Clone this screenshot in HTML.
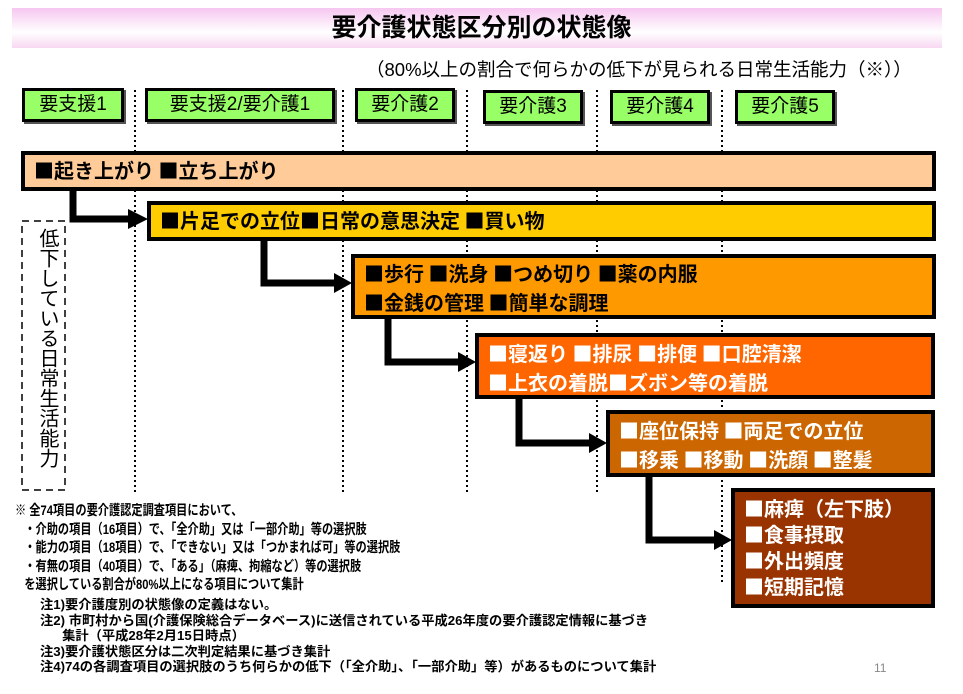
<!DOCTYPE html>
<html><head><meta charset="utf-8"><style>
body{margin:0;width:963px;height:694px;background:#fff;position:relative;overflow:hidden;font-family:"Liberation Sans","Noto Sans CJK JP",sans-serif;}
.a{position:absolute;white-space:nowrap;}
.g{position:absolute;background:#99FF66;border:3px solid #000;box-shadow:2px 2px 0 #555;font-size:19px;text-align:center;line-height:28px;height:28px;box-sizing:content-box}
.bar{position:absolute;border:4px solid #000;box-sizing:border-box;font-family:"Noto Sans CJK JP",sans-serif;font-size:20px;font-weight:bold;line-height:29px;padding-left:9px;white-space:nowrap}
.n{position:absolute;white-space:nowrap;font-weight:bold;transform-origin:0 0;}
</style></head><body>
<div class="a" style="left:12px;top:8px;width:930px;height:40px;background:linear-gradient(#f6c6f0,#fff 60%,#f8d8f2);"></div>
<div class="a" style="left:0;width:963px;top:12px;text-align:center;font-size:25px;font-weight:bold;line-height:32px;">要介護状態区分別の状態像</div>
<div class="a" style="left:366px;top:57px;font-size:18.5px;line-height:26px;">（80%以上の割合で何らかの低下が見られる日常生活能力（※））</div>
<svg class="a" style="left:0;top:0" width="963" height="694">
<g stroke="#000" stroke-width="2" stroke-dasharray="2,3">
<line x1="135" y1="90" x2="135" y2="495"/><line x1="343" y1="90" x2="343" y2="495"/>
<line x1="467" y1="90" x2="467" y2="495"/><line x1="597" y1="90" x2="597" y2="495"/>
<line x1="722" y1="90" x2="722" y2="585"/>
</g>
<rect x="22" y="221" width="43" height="269" fill="none" stroke="#000" stroke-width="1.5" stroke-dasharray="7,5"/>
<g stroke="#000" stroke-width="7" fill="none">
<polyline points="73,190 73,219 133,219"/>
<polyline points="264,240 264,283 337,283"/>
<polyline points="388,318 388,362 461,362"/>
<polyline points="519,398 519,443 592,443"/>
<polyline points="649,476 649,540 717,540"/>
</g>
<g fill="#000">
<polygon points="128,209 148,219 128,229"/>
<polygon points="334,273 352,283 334,293"/>
<polygon points="458,352 476,362 458,372"/>
<polygon points="589,433 607,443 589,453"/>
<polygon points="714,530 732,540 714,550"/>
</g>
</svg>
<div class="g" style="left:22px;top:88px;width:96px;">要支援1</div>
<div class="g" style="left:145px;top:88px;width:184px;">要支援2/要介護1</div>
<div class="g" style="left:355px;top:88px;width:94px;">要介護2</div>
<div class="g" style="left:483px;top:90px;width:94px;">要介護3</div>
<div class="g" style="left:610px;top:90px;width:94px;">要介護4</div>
<div class="g" style="left:735px;top:90px;width:94px;">要介護5</div>

<div class="bar" style="left:21px;top:151px;width:915px;height:40px;background:#FFCC99;">■起き上がり ■立ち上がり</div>
<div class="bar" style="left:147px;top:201px;width:789px;height:40px;background:#FFCC00;">■片足での立位■日常の意思決定 ■買い物</div>
<div class="bar" style="left:351px;top:254px;width:585px;height:65px;background:#FF9900;">■歩行 ■洗身 ■つめ切り ■薬の内服<br>■金銭の管理 ■簡単な調理</div>
<div class="bar" style="left:475px;top:333px;width:460px;height:66px;background:#FF6600;color:#fff;padding-top:1px">■寝返り ■排尿 ■排便 ■口腔清潔<br>■上衣の着脱■ズボン等の着脱</div>
<div class="bar" style="left:606px;top:410px;width:329px;height:67px;background:#CC6600;color:#fff;padding-top:1px">■座位保持 ■両足での立位<br>■移乗 ■移動 ■洗顔 ■整髪</div>
<div class="bar" style="left:731px;top:488px;width:204px;height:120px;background:#993300;color:#fff;line-height:26px;padding-top:3px">■麻痺（左下肢）<br>■食事摂取<br>■外出頻度<br>■短期記憶</div>

<div class="a" style="left:31px;top:228px;width:26px;font-size:20px;line-height:21.5px;writing-mode:vertical-rl;">低下している日常生活能力</div>

<div class="n" style="left:15px;top:501px;font-size:14px;line-height:18.5px;transform:scaleX(0.8)">※ 全74項目の要介護認定調査項目において、<br>&nbsp;&nbsp;&nbsp;・介助の項目（16項目）で、「全介助」又は「一部介助」等の選択肢<br>&nbsp;&nbsp;&nbsp;・能力の項目（18項目）で、「できない」又は「つかまれば可」等の選択肢<br>&nbsp;&nbsp;&nbsp;・有無の項目（40項目）で、「ある」（麻痺、拘縮など）等の選択肢<br>&nbsp;&nbsp;&nbsp;を選択している割合が80%以上になる項目について集計</div>
<div class="n" style="left:40px;top:597px;font-size:13px;line-height:15.5px;transform:scaleX(1.02)">注1)要介護度別の状態像の定義はない。<br>注2) 市町村から国(介護保険総合データベース)に送信されている平成26年度の要介護認定情報に基づき<br>&nbsp;&nbsp;&nbsp;&nbsp;&nbsp;&nbsp;集計（平成28年2月15日時点）<br>注3)要介護状態区分は二次判定結果に基づき集計<br>注4)74の各調査項目の選択肢のうち何らかの低下（「全介助」、「一部介助」等）があるものについて集計</div>
<div class="a" style="left:874px;top:661px;font-size:12px;color:#888;">11</div>
</body></html>
